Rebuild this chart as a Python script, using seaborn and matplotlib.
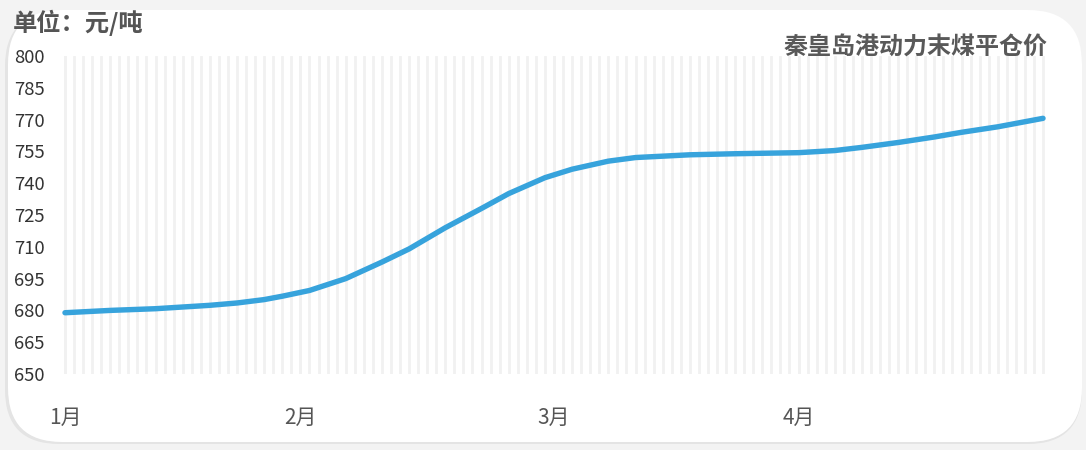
import matplotlib
matplotlib.use("Agg")
import matplotlib.pyplot as plt
import seaborn as sns
import pandas as pd
import numpy as np
from matplotlib.patches import FancyBboxPatch

# readings taken off the chart (x = position on the daily grid, 0..108)
day_idx = [0, 5, 10, 16, 19, 22, 24, 27, 31, 35, 38, 42, 46, 49, 53, 56, 60, 63,
           69, 74, 81, 85, 88, 92, 96, 99, 103, 108]
price = [678.9, 680.0, 680.8, 682.4, 683.5, 685.1, 686.7, 689.4, 695.0, 702.8, 709.0,
         719.0, 728.1, 735.1, 742.6, 746.6, 750.4, 752.1, 753.4, 753.9, 754.4, 755.4,
         756.9, 759.2, 761.8, 764.0, 766.6, 770.6]
month_pos = [0, 26, 54, 81]
month_labels = ["1月", "2月", "3月", "4月"]
n_days = 109
y_ticks = [650, 665, 680, 695, 710, 725, 740, 755, 770, 785, 800]

df = pd.DataFrame({"day": day_idx, "price": price})

sns.set_theme(style="white")
plt.rcParams["font.family"] = ["Noto Sans CJK SC", "DejaVu Sans"]

W, H = 1086, 450
fig = plt.figure(figsize=(W / 100, H / 100), dpi=100, facecolor="#f3f3f3")

# white card with soft shadow
shadow = FancyBboxPatch((5 / W, 6 / H), 1077 / W, 432 / H,
                        boxstyle="round,pad=0,rounding_size=0.05",
                        transform=fig.transFigure, facecolor="#e4e4e4",
                        edgecolor="none", mutation_aspect=W / H, zorder=0)
card = FancyBboxPatch((8 / W, 8 / H), 1074 / W, 432 / H,
                      boxstyle="round,pad=0,rounding_size=0.05",
                      transform=fig.transFigure, facecolor="white",
                      edgecolor="none", mutation_aspect=W / H, zorder=0)
fig.patches.extend([shadow, card])

ax = fig.add_axes([60 / W, 76 / H, 988 / W, 318 / H])
ax.set_zorder(2)
ax.set_facecolor("none")

sns.lineplot(data=df, x="day", y="price", ax=ax, color="#37a3dc", linewidth=3.9,
             solid_capstyle="round", solid_joinstyle="round", clip_on=False, zorder=3)

ax.set_xlim(-0.55, n_days - 1 + 0.55)
ax.set_ylim(650, 800)
ax.set_yticks(y_ticks)
ax.set_xticks(month_pos)
ax.set_xticklabels(month_labels)
ax.set_xticks(np.arange(n_days), minor=True)
ax.xaxis.remove_overlapping_locs = False
ax.grid(axis="x", which="both", color="#f1f1f1", linewidth=2)
ax.grid(axis="y", visible=False)
ax.tick_params(axis="y", labelsize=13.3, colors="#333333", pad=11, length=0)
ax.tick_params(axis="x", which="both", labelsize=15, colors="#555555", pad=24, length=0)
ax.set_xlabel("")
ax.set_ylabel("")
sns.despine(ax=ax, left=True, bottom=True)

fig.text(13 / W, 1 - 23 / H, "单位：元/吨", fontsize=17.5, fontweight="bold",
         color="#555555", ha="left", va="center", zorder=3)
fig.text(1048 / W, 1 - 47 / H, "秦皇岛港动力末煤平仓价", fontsize=17.3, fontweight="bold",
         color="#595959", ha="right", va="center", zorder=3)

fig.savefig("out.png", dpi=100, facecolor=fig.get_facecolor())
